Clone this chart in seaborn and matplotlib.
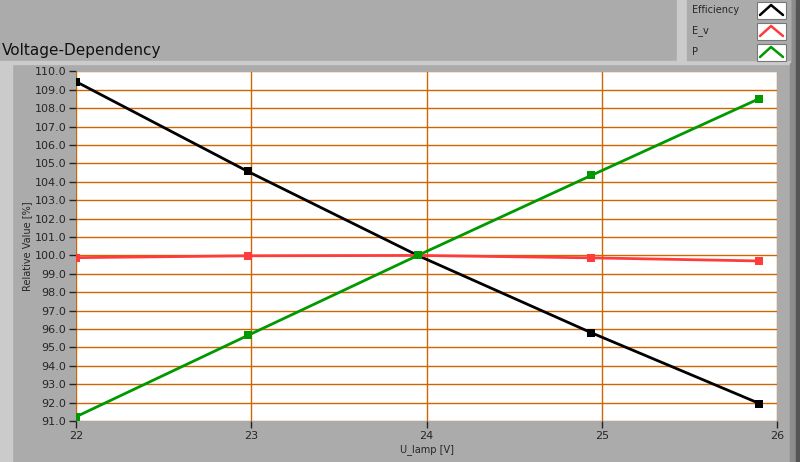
import pandas as pd
import matplotlib
matplotlib.use("Agg")
import matplotlib.pyplot as plt
from matplotlib.patches import Rectangle
from matplotlib.lines import Line2D
import seaborn as sns

# values
u_lamp = [22.0, 22.98, 23.95, 24.94, 25.90]
efficiency = [109.45, 104.57, 100.0, 95.8, 91.95]
e_v = [99.88, 99.98, 100.0, 99.87, 99.7]
p = [91.23, 95.65, 100.0, 104.35, 108.53]

series_names = ["Efficiency", "E_v", "P"]
colors = ["#000000", "#FF3C3C", "#009900"]
y_ticks = [91 + i for i in range(20)]
x_ticks = [22, 23, 24, 25, 26]

df = pd.DataFrame({
    "U_lamp": u_lamp * 3,
    "value": efficiency + e_v + p,
    "series": [s for s in series_names for _ in u_lamp],
})

sns.set_style("white")
plt.rcParams["font.family"] = ["DejaVu Sans"]

bg = "#ABABAB"
fig = plt.figure(figsize=(8, 4.62), dpi=100, facecolor=bg)

# panel decorations (LabVIEW style frame)
fig.add_artist(Rectangle((0, 0), 12 / 800, 400 / 462, transform=fig.transFigure,
                         color="#CBCBCB", zorder=0))
fig.add_artist(Rectangle((0, 398 / 462), 790 / 800, 3 / 462, transform=fig.transFigure,
                         color="#CBCBCB", zorder=0))
fig.add_artist(Rectangle((790 / 800, 0), 10 / 800, 1, transform=fig.transFigure,
                         color="#8C8C8C", zorder=0))
fig.add_artist(Rectangle((796 / 800, 0), 4 / 800, 1, transform=fig.transFigure,
                         color="#555555", zorder=0))

ax = fig.add_axes([76 / 800, 1 - 421 / 462, 701 / 800, 349.5 / 462])
ax.set_facecolor("white")

sns.lineplot(data=df, x="U_lamp", y="value", hue="series", hue_order=series_names,
             palette=colors, marker="s", markersize=5.5, markeredgewidth=0,
             linewidth=2, legend=False, ax=ax, zorder=3)

ax.set_xlim(22, 26)
ax.set_ylim(91, 110)
ax.set_xticks(x_ticks)
ax.set_yticks(y_ticks)
ax.set_yticklabels([f"{v:.1f}" for v in y_ticks])
ax.grid(True, color="#CC6600", linewidth=1)
ax.set_axisbelow(True)
for s in ax.spines.values():
    s.set_visible(False)
ax.tick_params(axis="both", direction="out", length=5, width=1, color="#222222",
               labelsize=8, pad=2, left=True, bottom=True)
ax.set_xlabel("U_lamp [V]", fontsize=7)
ax.set_ylabel("Relative Value [%]", fontsize=7)
ax.yaxis.set_label_coords(-44 / 701, 0.5)
ax.xaxis.set_label_coords(0.5, -23 / 349.5)

fig.text(2 / 800, 1 - 51 / 462, "Voltage-Dependency", fontsize=11, va="center",
         ha="left", color="#111111")

# legend block at top right
fig.add_artist(Rectangle((677 / 800, 1 - 62 / 462), 113 / 800, 62 / 462,
                         transform=fig.transFigure, color="#CBCBCB", zorder=0))
fig.add_artist(Rectangle((687 / 800, 1 - 60 / 462), 103 / 800, 60 / 462,
                         transform=fig.transFigure, color=bg, zorder=1))
for i, (name, c) in enumerate(zip(series_names, colors)):
    yc = 1 - (10 + i * 21) / 462
    fig.text(692 / 800, yc, name, fontsize=7, va="center", ha="left")
    fig.add_artist(Rectangle((757 / 800, yc - 9 / 462), 29 / 800, 17 / 462,
                             transform=fig.transFigure, facecolor="white",
                             edgecolor="#777777", linewidth=0.8, zorder=2))
    xs = [760 / 800, 771 / 800, 783 / 800]
    ys = [yc - 5 / 462, yc + 5 / 462, yc - 5 / 462]
    fig.add_artist(Line2D(xs, ys, transform=fig.transFigure, color=c,
                          linewidth=1.8, zorder=3))

fig.savefig("out.png", dpi=100, facecolor=bg)
